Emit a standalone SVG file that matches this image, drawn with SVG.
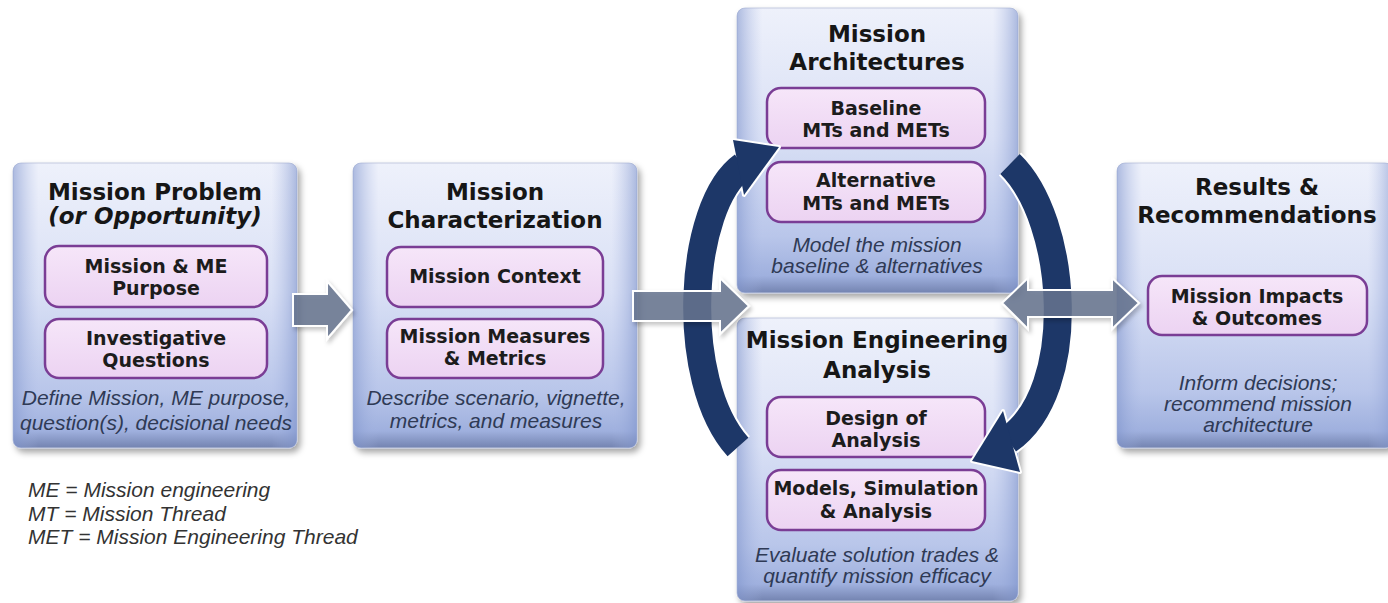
<svg xmlns="http://www.w3.org/2000/svg" width="1388" height="603" viewBox="0 0 1388 603">
<defs>
<linearGradient id="boxV" x1="0" y1="0" x2="0" y2="1">
<stop offset="0" stop-color="#eef1fb"/>
<stop offset="0.45" stop-color="#d9e0f5"/>
<stop offset="0.8" stop-color="#b9c6ea"/>
<stop offset="0.94" stop-color="#9fb0de"/>
<stop offset="1" stop-color="#7383b0"/>
</linearGradient>
<linearGradient id="boxH" x1="0" y1="0" x2="1" y2="0">
<stop offset="0" stop-color="#7f94cc" stop-opacity="0.6"/>
<stop offset="0.09" stop-color="#a9b8e3" stop-opacity="0"/>
<stop offset="0.91" stop-color="#a9b8e3" stop-opacity="0"/>
<stop offset="1" stop-color="#7f94cc" stop-opacity="0.6"/>
</linearGradient>
<linearGradient id="pill" x1="0" y1="0" x2="0" y2="1">
<stop offset="0" stop-color="#f6e6f9"/>
<stop offset="1" stop-color="#ecd3f2"/>
</linearGradient>
<filter id="sh" x="-10%" y="-10%" width="125%" height="125%">
<feDropShadow dx="3" dy="4" stdDeviation="3" flood-color="#000" flood-opacity="0.35"/>
</filter>
<filter id="ash" x="-20%" y="-30%" width="150%" height="170%">
<feDropShadow dx="2" dy="3" stdDeviation="2" flood-color="#000" flood-opacity="0.25"/>
</filter>
<style>
.box{fill:url(#boxV);stroke:#c3cae0;stroke-width:1}
.edge{fill:url(#boxH)}
.pill{fill:url(#pill);stroke:#7a3d95;stroke-width:2.5}
.title{font-family:"DejaVu Sans",sans-serif;font-weight:bold;font-size:23px;fill:#161616;text-anchor:middle}
.ptxt{font-family:"DejaVu Sans",sans-serif;font-weight:bold;font-size:19px;fill:#1c1c1c;text-anchor:middle}
.desc{font-family:"Liberation Sans",Arial,sans-serif;font-style:italic;font-size:21px;fill:#2f3a55;text-anchor:middle}
.legend{font-family:"Liberation Sans",Arial,sans-serif;font-style:italic;font-size:21px;fill:#333}
.garrow{fill:#66748f;fill-opacity:0.85;stroke:#ffffff;stroke-width:2;filter:url(#ash)}
.arcw{fill:none;stroke:#ffffff;stroke-width:32}
.arcb{fill:none;stroke:#1d3768;stroke-width:28}
.headw{fill:#ffffff;stroke:#ffffff;stroke-width:4;stroke-linejoin:round}
.headb{fill:#1d3768}
</style>
</defs>
<rect width="1388" height="603" fill="#ffffff"/>

<g id="mission-problem">
<rect class="box" x="13" y="163" width="284" height="285" rx="8" filter="url(#sh)"/>
<rect class="edge" x="13" y="163" width="284" height="285" rx="8"/>
<text class="title" x="155" y="200">Mission Problem</text>
<text class="title" x="155" y="224" font-style="italic">(or Opportunity)</text>
<rect class="pill" x="45" y="246" width="222" height="61" rx="14"/>
<text class="ptxt" x="156" y="273">Mission &amp; ME</text>
<text class="ptxt" x="156" y="295">Purpose</text>
<rect class="pill" x="45" y="319" width="222" height="59" rx="14"/>
<text class="ptxt" x="156" y="345">Investigative</text>
<text class="ptxt" x="156" y="367">Questions</text>
<text class="desc" x="156" y="405">Define Mission, ME purpose,</text>
<text class="desc" x="156" y="430">question(s), decisional needs</text>
</g>

<g id="mission-characterization">
<rect class="box" x="353" y="163" width="284" height="285" rx="8" filter="url(#sh)"/>
<rect class="edge" x="353" y="163" width="284" height="285" rx="8"/>
<text class="title" x="495" y="200">Mission</text>
<text class="title" x="495" y="228">Characterization</text>
<rect class="pill" x="387" y="247" width="216" height="60" rx="14"/>
<text class="ptxt" x="495" y="283">Mission Context</text>
<rect class="pill" x="387" y="319" width="216" height="59" rx="14"/>
<text class="ptxt" x="495" y="343">Mission Measures</text>
<text class="ptxt" x="495" y="365">&amp; Metrics</text>
<text class="desc" x="496" y="405">Describe scenario, vignette,</text>
<text class="desc" x="496" y="428">metrics, and measures</text>
</g>

<g id="mission-architectures">
<rect class="box" x="737" y="8" width="281" height="285" rx="8" filter="url(#sh)"/>
<rect class="edge" x="737" y="8" width="281" height="285" rx="8"/>
<text class="title" x="877" y="42">Mission</text>
<text class="title" x="877" y="70">Architectures</text>
<rect class="pill" x="767" y="88" width="218" height="60" rx="14"/>
<text class="ptxt" x="876" y="115">Baseline</text>
<text class="ptxt" x="876" y="137">MTs and METs</text>
<rect class="pill" x="767" y="162" width="218" height="60" rx="14"/>
<text class="ptxt" x="876" y="187">Alternative</text>
<text class="ptxt" x="876" y="210">MTs and METs</text>
<text class="desc" x="877" y="252">Model the mission</text>
<text class="desc" x="877" y="273">baseline &amp; alternatives</text>
</g>

<g id="mission-engineering-analysis">
<rect class="box" x="737" y="318" width="281" height="283" rx="8" filter="url(#sh)"/>
<rect class="edge" x="737" y="318" width="281" height="283" rx="8"/>
<text class="title" x="877" y="348">Mission Engineering</text>
<text class="title" x="877" y="378">Analysis</text>
<rect class="pill" x="767" y="397" width="218" height="60" rx="14"/>
<text class="ptxt" x="876" y="425">Design of</text>
<text class="ptxt" x="876" y="447">Analysis</text>
<rect class="pill" x="767" y="470" width="218" height="60" rx="14"/>
<text class="ptxt" x="876" y="495">Models, Simulation</text>
<text class="ptxt" x="876" y="518">&amp; Analysis</text>
<text class="desc" x="877" y="562">Evaluate solution trades &amp;</text>
<text class="desc" x="877" y="583">quantify mission efficacy</text>
</g>

<g id="results-recommendations">
<rect class="box" x="1117" y="163" width="276" height="285" rx="8" filter="url(#sh)"/>
<rect class="edge" x="1117" y="163" width="276" height="285" rx="8"/>
<text class="title" x="1257" y="195">Results &amp;</text>
<text class="title" x="1257" y="223">Recommendations</text>
<rect class="pill" x="1148" y="276" width="219" height="59" rx="14"/>
<text class="ptxt" x="1257" y="303">Mission Impacts</text>
<text class="ptxt" x="1257" y="325">&amp; Outcomes</text>
<text class="desc" x="1258" y="390">Inform decisions;</text>
<text class="desc" x="1258" y="411">recommend mission</text>
<text class="desc" x="1258" y="432">architecture</text>
</g>

<g id="legend">
<text class="legend" x="28" y="497">ME = Mission engineering</text>
<text class="legend" x="28" y="521">MT = Mission Thread</text>
<text class="legend" x="28" y="544">MET = Mission Engineering Thread</text>
</g>

<g id="connectors">
<path class="arcw" d="M 738 447 C 678 380 688 205 743 166"/>
<path class="arcw" d="M 1010 164 C 1068 220 1080 390 1008 440"/>
<polygon class="headw" points="733,140 779,147 744,195"/>
<polygon class="headw" points="1003,411 1020,472 972,461"/>
<path class="arcb" d="M 738 447 C 678 380 688 205 743 166"/>
<path class="arcb" d="M 1010 164 C 1068 220 1080 390 1008 440"/>
<polygon class="headb" points="733,140 779,147 744,195"/>
<polygon class="headb" points="1003,411 1020,472 972,461"/>
<polygon class="garrow" points="293,294 327,294 327,281 352,310 327,339 327,326 293,326"/>
<polygon class="garrow" points="633,291 720,291 720,278 749,306 720,334 720,321 633,321"/>
<polygon class="garrow" points="1002,303 1028,278 1028,290 1112,290 1112,278 1139,303 1112,329 1112,317 1028,317 1028,329"/>
</g>
</svg>
